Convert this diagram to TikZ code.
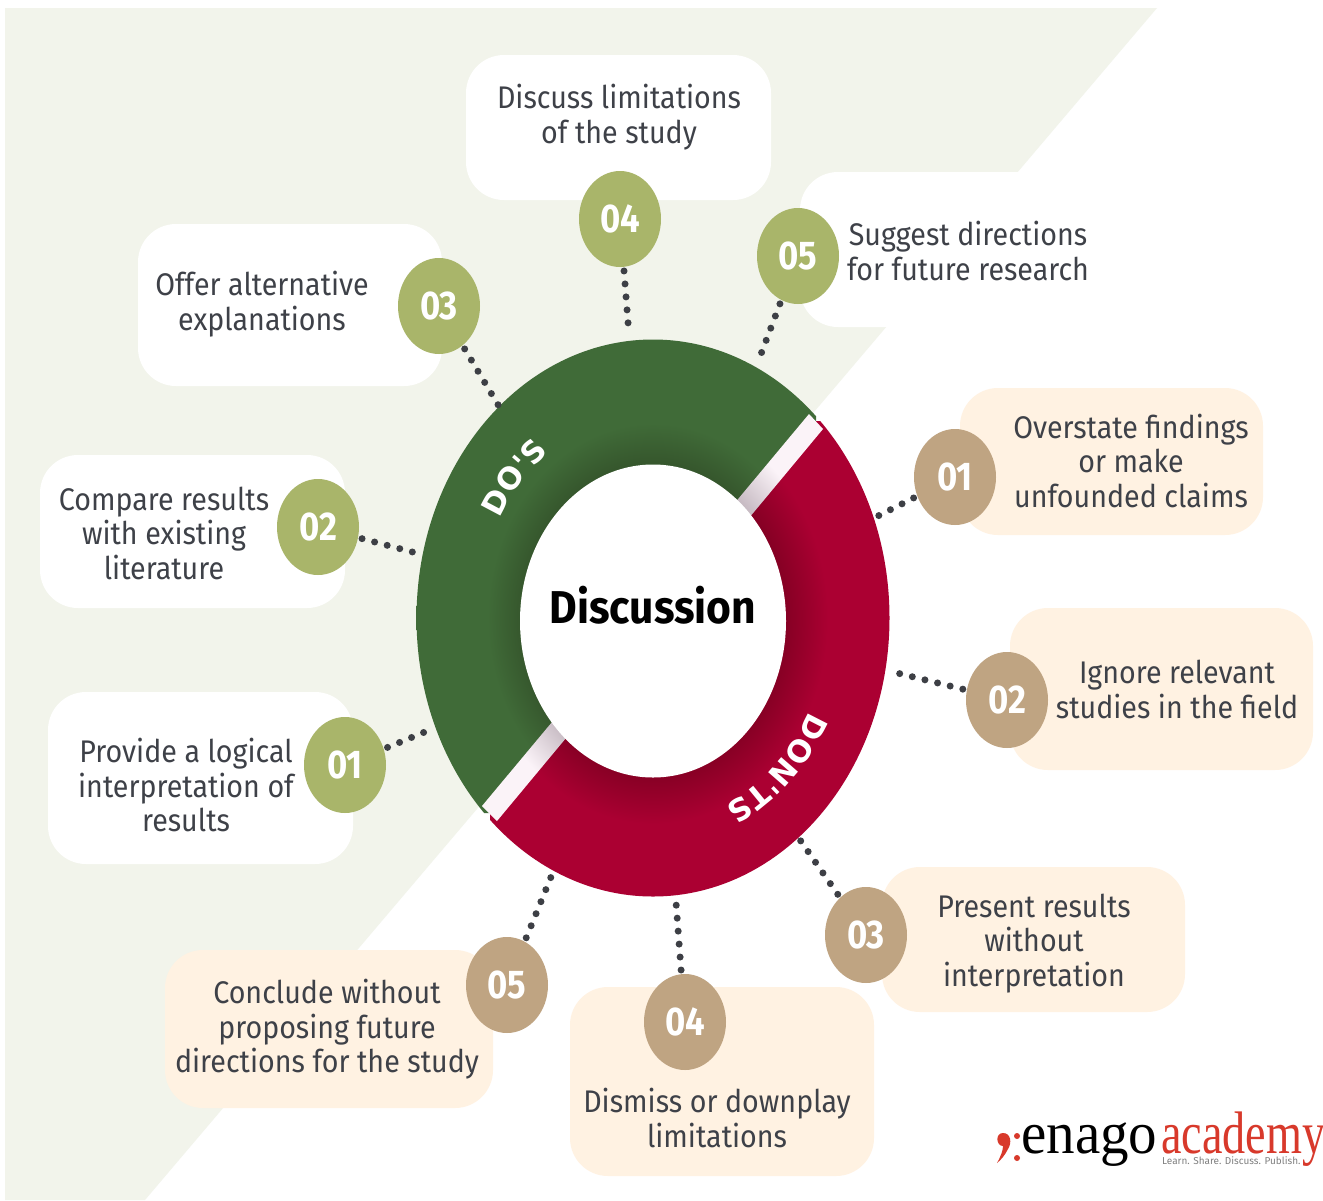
\documentclass[tikz,border=0pt]{standalone}
\usepackage{fontspec}
\usepackage{graphicx}
\usetikzlibrary{shapes.geometric,decorations.text}
\setmainfont{Fira Sans}
\newfontfamily\lblfam{DejaVu Sans}
\newfontfamily\logofam{Liberation Serif}
\definecolor{bgleaf}{HTML}{F2F4EB}
\definecolor{bubblecream}{HTML}{FFF2E2}
\definecolor{dogreen}{HTML}{A9B56A}
\definecolor{donttan}{HTML}{BFA482}
\definecolor{ringgreen}{HTML}{406B38}
\definecolor{ringgreendark}{HTML}{36572D}
\definecolor{ringred}{HTML}{AB0032}
\definecolor{ringreddark}{HTML}{860024}
\definecolor{bandlight}{HTML}{FBF3F8}
\definecolor{banddark}{HTML}{C8BCC4}
\definecolor{bodytext}{HTML}{3E4148}
\definecolor{dotgrey}{HTML}{3D3F45}
\definecolor{logored}{HTML}{D8392B}
\pgfdeclareradialshading{greenring}{\pgfpoint{0bp}{0bp}}{color(0bp)=(ringgreendark); color(14bp)=(ringgreendark); color(17.5bp)=(ringgreen); color(50bp)=(ringgreen)}
\pgfdeclareradialshading{redring}{\pgfpoint{0bp}{0bp}}{color(0bp)=(ringreddark); color(14bp)=(ringreddark); color(18.5bp)=(ringred); color(50bp)=(ringred)}
\pgfdeclareradialshading{bandring}{\pgfpoint{0bp}{0bp}}{color(0bp)=(banddark); color(14bp)=(banddark); color(18.5bp)=(bandlight); color(50bp)=(bandlight)}
\newcommand\stretched[4]{\scalebox{#1}[1.18]{\fontsize{#2}{#3}\selectfont\begin{tabular}{@{}c@{}}#4\end{tabular}}}
\newcommand\ringfont{\color{white}\lblfam\bfseries\fontsize{30.5}{31}\selectfont}
\tikzset{
  bubblebox/.style={rounded corners=38pt,inner sep=0pt,fill=#1},
  numdisc/.style={ellipse,inner sep=0pt,minimum width=82pt,minimum height=96pt,fill=#1,text=white},
  bodylabel/.style={inner sep=0pt,text=bodytext},
  dotted link/.style={line width=7pt,line cap=round,dash pattern=on 0pt off 13pt,draw=dotgrey,shorten <=4pt},
  ringtext/.style={decorate,decoration={text along path,text align=left,text={|\ringfont|#1}}}
}
\newcommand\bubble[6]{\node[bubblebox=#6,minimum width=#4pt,minimum height=#5pt] (#1) at (#2,#3) {};}
\newcommand\disc[5]{\node[numdisc=#4] (#1) at (#2,#3) {\raisebox{-5pt}[\height][\depth]{\stretched{1.02}{34}{36}{\bfseries #5}}};}
\newcommand\body[4]{\node[bodylabel] (#1) at (#2,#3) {\stretched{1.08}{26.5}{29.3}{#4}};}
\begin{document}
\begin{tikzpicture}[x=1pt,y=-1pt]
\useasboundingbox[fill=white] (0,0) rectangle (1323,1200);
\fill[bgleaf] (5,8) -- (1157,8) -- (145,1200) -- (5,1200) -- cycle;
% bubbles
\bubble{bd4}{618.5}{127.5}{305}{145}{white}
\bubble{bd5}{950}{249.5}{300}{155}{white}
\bubble{bd3}{290}{305}{304}{162}{white}
\bubble{bd2}{192.5}{531.5}{305}{153}{white}
\bubble{bd1}{200.5}{778}{305}{172}{white}
\bubble{br1}{1111.5}{461.5}{303}{147}{bubblecream}
\bubble{br2}{1161.5}{689}{303}{162}{bubblecream}
\bubble{br3}{1033.5}{939.5}{303}{145}{bubblecream}
\bubble{br4}{722}{1081.5}{304}{189}{bubblecream}
\bubble{br5}{329}{1029}{328}{158}{bubblecream}
% ring
\begin{scope}
\clip (816,421) -- (490,813) -- (0,813) -- (0,0) -- (816,0) -- cycle;
\path[shading=greenring] (653,618) ellipse [x radius=236.5,y radius=278.5];
\end{scope}
\begin{scope}
\clip (816,421) -- (490,813) -- (490,1200) -- (1323,1200) -- (1323,421) -- cycle;
\path[shading=redring] (653,618) ellipse [x radius=236.5,y radius=278.5];
\end{scope}
\begin{scope}
\clip (809,414) -- (823,429) -- (497,821) -- (482,806) -- cycle;
\path[shading=bandring] (653,618) ellipse [x radius=236.5,y radius=278.5];
\end{scope}
\node[ellipse,fill=white,inner sep=0pt,minimum width=266pt,minimum height=313pt] (hub) at (653,621) {};
\node[inner sep=0pt,text=black] (hublabel) at (653,612) {\stretched{1.09}{39}{41}{\bfseries Discussion}};
\path[ringtext={DO'S}] plot[domain=151:95,samples=30] ({653+175*cos(\x)},{618-206*sin(\x)});
\path[ringtext={DON'TS}] plot[domain=-27:-90,samples=40] ({653+175*cos(\x)},{618-206*sin(\x)});
% discs
\disc{cd4}{620}{219}{dogreen}{04}
\disc{cd5}{798}{256}{dogreen}{05}
\disc{cd3}{439}{306}{dogreen}{03}
\disc{cd2}{318}{527}{dogreen}{02}
\disc{cd1}{345}{765}{dogreen}{01}
\disc{cr1}{955}{477}{donttan}{01}
\disc{cr2}{1007}{700}{donttan}{02}
\disc{cr3}{866}{935}{donttan}{03}
\disc{cr4}{685}{1022}{donttan}{04}
\disc{cr5}{507}{985}{donttan}{05}
% ring anchor points
\coordinate (ad4) at (629,335);
\coordinate (ad5) at (758,362);
\coordinate (ad3) at (500,408);
\coordinate (ad2) at (420,554);
\coordinate (ad1) at (432,729);
\coordinate (ar1) at (876,517);
\coordinate (ar2) at (889,671);
\coordinate (ar3) at (798,837);
\coordinate (ar4) at (676,902);
\coordinate (ar5) at (551,877);
% connectors
\draw[dotted link] (cd4) -- (ad4);
\draw[dotted link] (cd5) -- (ad5);
\draw[dotted link] (cd3) -- (ad3);
\draw[dotted link] (cd2) -- (ad2);
\draw[dotted link] (cd1) -- (ad1);
\draw[dotted link] (cr1) -- (ar1);
\draw[dotted link] (cr2) -- (ar2);
\draw[dotted link] (cr3) -- (ar3);
\draw[dotted link] (cr4) -- (ar4);
\draw[dotted link] (cr5) -- (ar5);
% texts
\body{td4}{619}{119}{Discuss limitations\\of the study}
\body{td5}{968}{256}{Suggest directions\\for future research}
\body{td3}{262}{306}{Offer alternative\\explanations}
\body{td2}{164}{538}{Compare results\\with existing\\literature}
\body{td1}{186}{790}{Provide a logical\\interpretation of\\results}
\body{tr1}{1131}{466}{Overstate findings\\or make\\unfounded claims}
\body{tr2}{1177}{694}{Ignore relevant\\studies in the field}
\body{tr3}{1034}{945}{Present results\\without\\interpretation}
\body{tr4}{717}{1123}{Dismiss or downplay\\limitations}
\body{tr5}{327}{1031}{Conclude without\\proposing future\\directions for the study}
% logo
\fill[logored] (1003,1133) .. controls (1011,1133) and (1012,1143) .. (1008,1149) .. controls (1005,1155) and (1001,1160) .. (997,1163) .. controls (1001,1156) and (1003,1150) .. (1003,1146) .. controls (996,1146) and (995,1133) .. (1003,1133) -- cycle;
\fill[logored] (1017,1136) circle (3pt);
\fill[logored] (1017,1158) circle (3pt);
\node[inner sep=0pt,anchor=base west,text=black] (logoa) at (1021,1153) {\scalebox{.95}[1]{\logofam\fontsize{60}{60}\selectfont enago}};
\node[inner sep=0pt,anchor=base west,text=logored] (logob) at (1161,1153) {\scalebox{.77}[1]{\logofam\fontsize{60}{60}\selectfont academy}};
\node[inner sep=0pt,anchor=base west,text=gray] (logoc) at (1162,1164) {\fontsize{10}{10}\selectfont Learn. Share. Discuss. Publish.};
\end{tikzpicture}
\end{document}
